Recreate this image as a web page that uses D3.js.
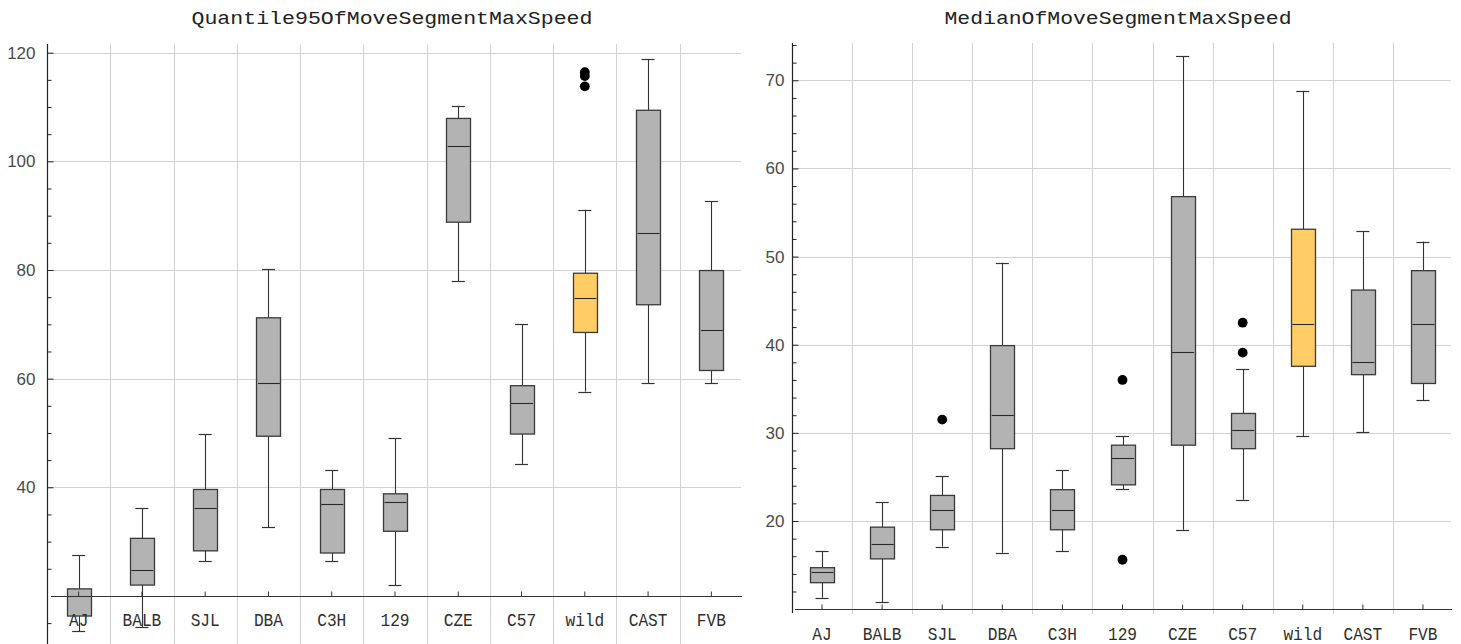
<!DOCTYPE html>
<html>
<head>
<meta charset="utf-8">
<script src="https://cdn.jsdelivr.net/npm/d3@7"></script>
<style>
  html, body { margin: 0; padding: 0; background: #ffffff; }
  svg { display: block; }
</style>
</head>
<body>
<svg id="chart" width="1461" height="644"></svg>
<script>
// ---------- data ----------
const categories = ["AJ", "BALB", "SJL", "DBA", "C3H", "129", "CZE", "C57", "wild", "CAST", "FVB"];
const highlightCategory = "wild";

// Quantile95OfMoveSegmentMaxSpeed
const q95Title = "Quantile95OfMoveSegmentMaxSpeed";
const q95Low    = [13.5, 14.3, 26.4, 32.6, 26.4, 22.0, 77.9, 44.3, 57.6, 59.2, 59.2];
const q95Q1     = [16.3, 22.0, 28.3, 49.4, 27.9, 31.9, 88.8, 49.8, 68.5, 73.6, 61.5];
const q95Median = [20.0, 24.8, 36.1, 59.2, 36.9, 37.2, 102.8, 55.6, 74.8, 86.8, 68.9];
const q95Q3     = [21.3, 30.6, 39.6, 71.2, 39.6, 38.8, 107.9, 58.7, 79.4, 109.4, 79.9];
const q95High   = [27.5, 36.1, 49.8, 80.2, 43.1, 49.0, 110.2, 70.0, 91.1, 118.8, 92.7];
const q95OutlierCats   = ["wild", "wild", "wild"];
const q95OutlierValues = [116.4, 115.7, 113.8];
const q95MajorTicks = [40, 60, 80, 100, 120];
const q95MinorTicks = [15, 25, 30, 35, 45, 50, 55, 65, 70, 75, 85, 90, 95, 105, 110, 115];
const q95AxisOrigin = 20;

// MedianOfMoveSegmentMaxSpeed
const medTitle = "MedianOfMoveSegmentMaxSpeed";
const medLow    = [11.3, 10.8, 17.1, 16.4, 16.6, 23.6, 19.0, 22.4, 29.6, 30.1, 33.7];
const medQ1     = [13.0, 15.7, 19.0, 28.2, 19.0, 24.1, 28.6, 28.2, 37.55, 36.6, 35.6];
const medMedian = [14.25, 17.4, 21.2, 32.0, 21.2, 27.2, 39.2, 30.3, 42.3, 38.0, 42.3];
const medQ3     = [14.7, 19.3, 22.9, 39.9, 23.55, 28.6, 56.8, 32.2, 53.1, 46.2, 48.4];
const medHigh   = [16.6, 22.1, 25.1, 49.3, 25.75, 29.6, 72.7, 37.2, 68.8, 52.9, 51.7];
const medOutlierCats   = ["SJL", "129", "129", "C57", "C57"];
const medOutlierValues = [31.5, 36.0, 15.6, 39.1, 42.5];
const medMajorTicks = [20, 30, 40, 50, 60, 70];
const medMinorTicks = [12, 14, 16, 18, 22, 24, 26, 28, 32, 34, 36, 38, 42, 44, 46, 48, 52, 54, 56, 58, 62, 64, 66, 68, 72, 74];
const medAxisOrigin = 10;

// ---------- drawing ----------
const svg = d3.select("#chart");
const crisp = v => Math.round(v) + 0.5;

function drawPanel(cfg) {
  const g = svg.append("g");
  const x = d3.scaleBand().domain(categories).range(cfg.xRange).padding(0);
  const y = d3.scaleLinear().domain(cfg.yDomain).range(cfg.yRange);
  const cx = c => x(c) + x.bandwidth() / 2;
  const top = cfg.yRange[1];
  const left = cfg.xRange[0], right = cfg.xRange[1];
  const axisY = y(cfg.origin);

  // grid
  g.append("g").selectAll("line").data(cfg.major).join("line")
    .attr("x1", left).attr("x2", right - 2)
    .attr("y1", d => crisp(y(d))).attr("y2", d => crisp(y(d)))
    .attr("stroke", "#d2d2d2").attr("stroke-width", 1);
  g.append("g").selectAll("line").data(categories.slice(1)).join("line")
    .attr("x1", d => crisp(x(d))).attr("x2", d => crisp(x(d)))
    .attr("y1", top).attr("y2", cfg.vGridBottom)
    .attr("stroke", "#d2d2d2").attr("stroke-width", 1);

  const boxW = 24, capW = 13;
  const rows = categories.map((c, i) => ({
    c, low: cfg.low[i], q1: cfg.q1[i], med: cfg.median[i], q3: cfg.q3[i], high: cfg.high[i]
  }));
  const items = g.append("g").selectAll("g").data(rows).join("g");
  // whiskers
  items.append("line")
    .attr("x1", d => crisp(cx(d.c))).attr("x2", d => crisp(cx(d.c)))
    .attr("y1", d => y(d.q3)).attr("y2", d => y(d.high))
    .attr("stroke", "#333").attr("stroke-width", 1.1);
  items.append("line")
    .attr("x1", d => crisp(cx(d.c))).attr("x2", d => crisp(cx(d.c)))
    .attr("y1", d => y(d.q1)).attr("y2", d => y(d.low))
    .attr("stroke", "#333").attr("stroke-width", 1.1);
  ["high", "low"].forEach(k => {
    items.append("line")
      .attr("x1", d => cx(d.c) - capW / 2).attr("x2", d => cx(d.c) + capW / 2)
      .attr("y1", d => crisp(y(d[k]))).attr("y2", d => crisp(y(d[k])))
      .attr("stroke", "#333").attr("stroke-width", 1.2);
  });
  // boxes
  items.append("rect")
    .attr("x", d => Math.round(cx(d.c) - boxW / 2) + 0.5)
    .attr("y", d => y(d.q3))
    .attr("width", boxW)
    .attr("height", d => y(d.q1) - y(d.q3))
    .attr("fill", d => d.c === highlightCategory ? "#ffcc66" : "#b3b3b3")
    .attr("stroke", "#3a3a3a").attr("stroke-width", 1.3);
  items.append("line")
    .attr("x1", d => cx(d.c) - boxW / 2 + 1.5).attr("x2", d => cx(d.c) + boxW / 2 - 0.5)
    .attr("y1", d => crisp(y(d.med))).attr("y2", d => crisp(y(d.med)))
    .attr("stroke", "#2a2a2a").attr("stroke-width", 1.1);

  // outliers
  g.append("g").selectAll("circle").data(cfg.outCats.map((c, i) => ({ c, v: cfg.outVals[i] }))).join("circle")
    .attr("cx", d => cx(d.c)).attr("cy", d => y(d.v)).attr("r", 4.9)
    .attr("fill", "#000");

  // y axis (major labelled, minor unlabelled), ticks pointing inward
  const yMajor = d3.axisLeft(y).tickValues(cfg.major.filter(v => v !== cfg.origin))
    .tickSize(-6).tickPadding(cfg.labelGap).tickFormat(d3.format("d"));
  const yMinor = d3.axisLeft(y).tickValues(cfg.minor).tickSize(-4).tickFormat("");
  const ya = g.append("g").attr("transform", `translate(${crisp(left)},0)`).call(yMajor);
  const ym = g.append("g").attr("transform", `translate(${crisp(left)},0)`).call(yMinor);
  [ya, ym].forEach(a => {
    a.select(".domain").remove();
    a.selectAll("line").attr("stroke", "#222");
  });
  ya.selectAll("text").attr("font-family", "'Liberation Sans', Arial, sans-serif")
    .attr("font-size", 17).attr("fill", "#4a4a4a");
  g.append("line").attr("x1", crisp(left)).attr("x2", crisp(left))
    .attr("y1", top).attr("y2", cfg.yAxisBottom)
    .attr("stroke", "#222").attr("stroke-width", 1.2);

  // x axis
  const xa = g.append("g").attr("transform", `translate(0,${crisp(axisY)})`)
    .call(d3.axisBottom(x).tickSize(-5).tickPadding(0));
  xa.select(".domain").remove();
  xa.selectAll("line").attr("stroke", "#333");
  xa.selectAll("text")
    .attr("y", cfg.labelDrop).attr("dy", 0)
    .attr("font-family", "'Liberation Mono', 'DejaVu Sans Mono', monospace")
    .attr("font-size", 19).attr("fill", "#2e2e2e")
    .attr("textLength", d => d.length * 9.7)
    .attr("lengthAdjust", "spacingAndGlyphs");
  g.append("line").attr("x1", cfg.xAxisStart).attr("x2", right - 1)
    .attr("y1", crisp(axisY)).attr("y2", crisp(axisY))
    .attr("stroke", "#333").attr("stroke-width", 1.2);

  // title
  g.append("text")
    .attr("x", cfg.titleX).attr("y", 23.5)
    .attr("text-anchor", "middle")
    .attr("font-family", "'Liberation Mono', 'DejaVu Sans Mono', monospace")
    .attr("font-size", 19).attr("fill", "#222")
    .attr("textLength", cfg.titleLen).attr("lengthAdjust", "spacingAndGlyphs")
    .text(cfg.title);
}

drawPanel({
  title: q95Title, titleX: 392, titleLen: 401,
  low: q95Low, q1: q95Q1, median: q95Median, q3: q95Q3, high: q95High,
  outCats: q95OutlierCats, outVals: q95OutlierValues,
  major: q95MajorTicks, minor: q95MinorTicks, origin: q95AxisOrigin,
  xRange: [47, 743], yDomain: [11.3, 121.6], yRange: [643.2, 44],
  vGridBottom: 644, yAxisBottom: 644, xAxisStart: 51, labelGap: 12, labelDrop: 29
});

drawPanel({
  title: medTitle, titleX: 1118, titleLen: 347,
  low: medLow, q1: medQ1, median: medMedian, q3: medQ3, high: medHigh,
  outCats: medOutlierCats, outVals: medOutlierValues,
  major: medMajorTicks, minor: medMinorTicks, origin: medAxisOrigin,
  xRange: [792, 1453], yDomain: [9.56, 74.23], yRange: [613, 43],
  vGridBottom: 614, yAxisBottom: 613, xAxisStart: 795, labelGap: 8, labelDrop: 30
});
</script>
</body>
</html>
